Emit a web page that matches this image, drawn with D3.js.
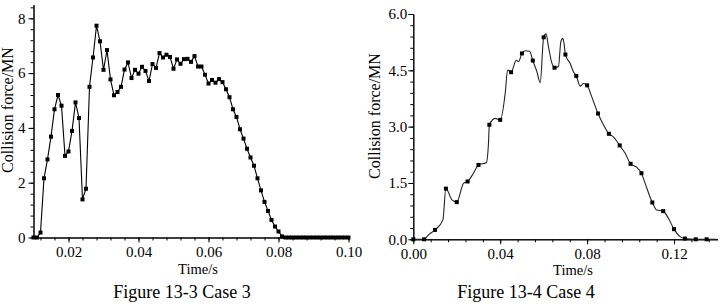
<!DOCTYPE html>
<html>
<head>
<meta charset="utf-8">
<script src="https://cdn.jsdelivr.net/npm/d3@7"></script>
<style>
body { margin: 0; background: #fff; }
text { font-family: "Liberation Serif", "Times New Roman", serif; fill: #000; }
</style>
</head>
<body>
<div id="chart"></div>
<script>
// Case 3 : one sample per ms
let case3Time = [0.010,0.011,0.012,0.013,0.014,0.015,0.016,0.017,0.018,0.019,
  0.020,0.021,0.022,0.023,0.024,0.025,0.026,0.027,0.028,0.029,
  0.030,0.031,0.032,0.033,0.034,0.035,0.036,0.037,0.038,0.039,
  0.040,0.041,0.042,0.043,0.044,0.045,0.046,0.047,0.048,0.049,
  0.050,0.051,0.052,0.053,0.054,0.055,0.056,0.057,0.058,0.059,
  0.060,0.061,0.062,0.063,0.064,0.065,0.066,0.067,0.068,0.069,
  0.070,0.071,0.072,0.073,0.074,0.075,0.076,0.077,0.078,0.079,
  0.080,0.081,0.082,0.083,0.084,0.085,0.086,0.087,0.088,0.089,
  0.090,0.091,0.092,0.093,0.094,0.095,0.096,0.097,0.098,0.099,0.100];
let case3Force = [0,0,0.18,2.16,2.85,3.68,4.68,5.20,4.81,2.98,
  3.14,3.89,4.93,4.36,1.39,1.78,5.50,6.57,7.73,7.16,
  6.12,6.84,5.77,5.19,5.31,5.50,6.13,6.39,5.82,6.12,
  5.98,6.23,6.08,5.71,6.33,6.19,6.73,6.57,6.67,6.59,
  6.16,6.50,6.34,6.51,6.52,6.41,6.62,6.24,6.24,5.94,
  5.62,5.75,5.65,5.78,5.67,5.41,5.12,4.68,4.40,3.95,
  3.61,3.24,2.92,2.62,2.16,1.72,1.30,0.97,0.64,0.40,
  0.22,0.04,0,0,0,0,0,0,0,0,
  0,0,0,0,0,0,0,0,0,0,0];

// Case 4 : smooth curve, markers every 5 ms
let case4Time = [0,0.005,0.007,0.010,0.0136,0.015,0.0178,0.020,0.0231,0.025,
  0.0277,0.030,0.0336,0.0346,0.035,0.0377,0.040,0.0423,0.0434,0.045,
  0.0474,0.0484,0.050,0.0515,0.0535,0.055,0.0569,0.0584,0.060,0.0611,
  0.0622,0.0638,0.065,0.0668,0.0679,0.0688,0.0694,0.070,0.0722,0.0737,
  0.075,0.0768,0.0783,0.080,0.0821,0.085,0.0876,0.090,0.0921,0.095,
  0.0975,0.100,0.1028,0.105,0.1067,0.110,0.112,0.115,0.1174,0.120,
  0.1228,0.125,0.130,0.135,0.1395];
let case4Force = [0,0,0.12,0.25,0.51,1.35,1.05,0.99,1.49,1.54,
  1.76,1.98,2.04,2.56,3.05,3.22,3.18,3.89,4.51,4.45,
  4.77,4.73,4.95,5.02,5.01,4.76,4.46,4.17,5.38,5.47,
  5.13,4.69,4.57,4.60,5.26,5.35,5.20,4.92,4.68,4.46,
  4.35,4.08,4.15,4.10,3.80,3.35,3.04,2.81,2.73,2.50,
  2.29,2.01,1.92,1.76,1.49,0.98,0.78,0.75,0.56,0.27,
  0.07,0.02,0,0,0];

let case3XTicks = [0.02,0.04,0.06,0.08,0.10];
let case3YTicks = [0,2,4,6,8];
let case4XTicks = [0,0.04,0.08,0.12];
let case4YTicks = [0,1.5,3.0,4.5,6.0];

let svg = d3.select("#chart").append("svg")
  .attr("width", 725)
  .attr("height", 308);

function minorTicks(lo, hi, step)
{
  let out = [];
  let n = Math.round((hi - lo) / step);
  for (let i = 0; i <= n; i++) out.push(+(lo + i * step).toFixed(4));
  return out;
}

function drawPanel(o)
{
  let x = d3.scaleLinear().domain(o.xDomain).range(o.xRange);
  let y = d3.scaleLinear().domain(o.yDomain).range(o.yRange);
  let g = svg.append("g");
  let y0 = o.yRange[0], x0 = o.xRange[0];

  // minor ticks first, then majors with labels
  g.append("g").attr("transform", "translate(0," + y0 + ")")
    .call(d3.axisBottom(x).tickValues(o.xMinor).tickSize(3).tickSizeOuter(0).tickFormat(""));
  g.append("g").attr("transform", "translate(" + x0 + ",0)")
    .call(d3.axisLeft(y).tickValues(o.yMinor).tickSize(3).tickSizeOuter(0).tickFormat(""));

  let xa = g.append("g").attr("transform", "translate(0," + y0 + ")")
    .call(d3.axisBottom(x).tickValues(o.xTicks).tickSize(5).tickSizeOuter(0)
      .tickPadding(4).tickFormat(d3.format(o.xFmt)));
  let ya = g.append("g").attr("transform", "translate(" + x0 + ",0)")
    .call(d3.axisLeft(y).tickValues(o.yTicks).tickSize(5).tickSizeOuter(0)
      .tickPadding(o.yPad).tickFormat(d3.format(o.yFmt)));
  [xa, ya].forEach(function(a) {
    a.attr("font-family", null).attr("font-size", 15);
    a.selectAll("text").style("font-family", "'Liberation Serif', serif");
  });
  g.selectAll(".domain, .tick line").attr("stroke", "#000").attr("stroke-width", 1);

  let pts = o.t.map(function(d, i) { return [d, o.f[i]]; });
  let line = d3.line()
    .x(function(d) { return x(d[0]); })
    .y(function(d) { return y(d[1]); })
    .curve(o.curve);
  g.append("path").attr("d", line(pts))
    .attr("fill", "none").attr("stroke", o.stroke).attr("stroke-width", 1.1);

  g.selectAll("rect.mk")
    .data(pts.filter(o.mark))
    .enter().append("rect")
      .attr("class", "mk")
      .attr("x", function(d) { return x(d[0]) - 2; })
      .attr("y", function(d) { return y(d[1]) - 2; })
      .attr("width", 4).attr("height", 4)
      .attr("fill", "#000");

  g.append("text")
    .attr("transform", "translate(" + o.yLab[0] + "," + o.yLab[1] + ") rotate(-90)")
    .attr("text-anchor", "middle").attr("font-size", 16)
    .text("Collision force/MN");
  g.append("text")
    .attr("x", o.xLab[0]).attr("y", o.xLab[1])
    .attr("text-anchor", "middle").attr("font-size", 14.5)
    .text("Time/s");
  g.append("text")
    .attr("x", o.cap[0]).attr("y", o.cap[1])
    .attr("text-anchor", "middle").attr("font-size", 18)
    .text(o.caption);
}

drawPanel({
  t: case3Time, f: case3Force,
  xDomain: [0.01, 0.10], xRange: [33.5, 348.5],
  yDomain: [0, 8.5], yRange: [237.5, 4.6],
  xTicks: case3XTicks, yTicks: case3YTicks,
  xMinor: minorTicks(0.012, 0.100, 0.004), yMinor: minorTicks(0, 8.4, 0.4),
  xFmt: ".2f", yFmt: "d", yPad: 3,
  curve: d3.curveLinear, stroke: "#000",
  mark: function() { return true; },
  yLab: [13, 110], xLab: [198, 274], cap: [182, 298],
  caption: "Figure 13-3 Case 3"
});

drawPanel({
  t: case4Time, f: case4Force,
  xDomain: [0, 0.14], xRange: [413.3, 717.5],
  yDomain: [0, 6], yRange: [239.3, 14],
  xTicks: case4XTicks, yTicks: case4YTicks,
  xMinor: minorTicks(0, 0.136, 0.008), yMinor: minorTicks(0, 6, 0.3),
  xFmt: ".2f", yFmt: ".1f", yPad: 1,
  curve: d3.curveMonotoneX, stroke: "#222",
  mark: function(d) { return Math.abs(d[0] * 200 - Math.round(d[0] * 200)) < 1e-6; },
  yLab: [380, 116], xLab: [573, 275], cap: [526, 298],
  caption: "Figure 13-4 Case 4"
});
</script>
</body>
</html>
